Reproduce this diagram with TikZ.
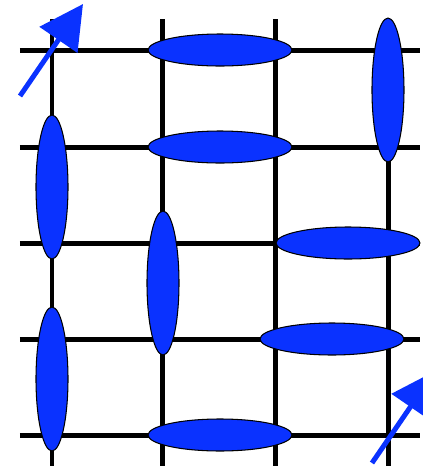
\documentclass[tikz,border=0pt]{standalone}
\usetikzlibrary{arrows.meta, shapes.geometric}
\begin{document}
\begin{tikzpicture}[x=0.02cm, y=-0.02cm, line cap=butt]

    % --- Definitions ---
    % Colors to match the image
    \definecolor{myblue}{RGB}{10, 50, 255}

    \tikzset{
        bond/.style={line width=0.1cm, black},
        hpair/.style={ellipse, draw=black, line width=0.6pt, fill=myblue,
            inner sep=0pt, minimum width=2.88cm, minimum height=0.64cm},
        vpair/.style={ellipse, draw=black, line width=0.6pt, fill=myblue,
            inner sep=0pt, minimum width=0.64cm, minimum height=2.88cm},
        spin/.style={line width=0.1cm, myblue,
            -{Triangle[length=0.87cm, width=0.9cm]}}
    }

    \clip (0,0) rectangle (423,468);

    % --- Lattice ---
    \foreach \y in {50,147,243,339,435}
        \draw[bond] (20,\y) -- (420,\y);
    \foreach \x in {52,163,276,389}
        \draw[bond] (\x,19) -- (\x,466);

    % --- Dimers ---
    \node[hpair] (topA)   at (220,50)  {};
    \node[hpair] (topB)   at (220,147) {};
    \node[hpair] (midA)   at (348,243) {};
    \node[hpair] (midB)   at (332,339) {};
    \node[hpair] (botA)   at (220,435) {};

    \node[vpair] (rightA) at (388,90)  {};
    \node[vpair] (leftA)  at (52,187)  {};
    \node[vpair] (centA)  at (163,283) {};
    \node[vpair] (leftB)  at (52,379)  {};

    % --- Spin arrows ---
    \coordinate (tailA) at (20,96);
    \coordinate (headA) at (83,4);
    \coordinate (tailB) at (372,463);
    \coordinate (headB) at (435,371);

    \draw[spin] (tailA) -- (headA);
    \draw[spin] (tailB) -- (headB);

\end{tikzpicture}
\end{document}
